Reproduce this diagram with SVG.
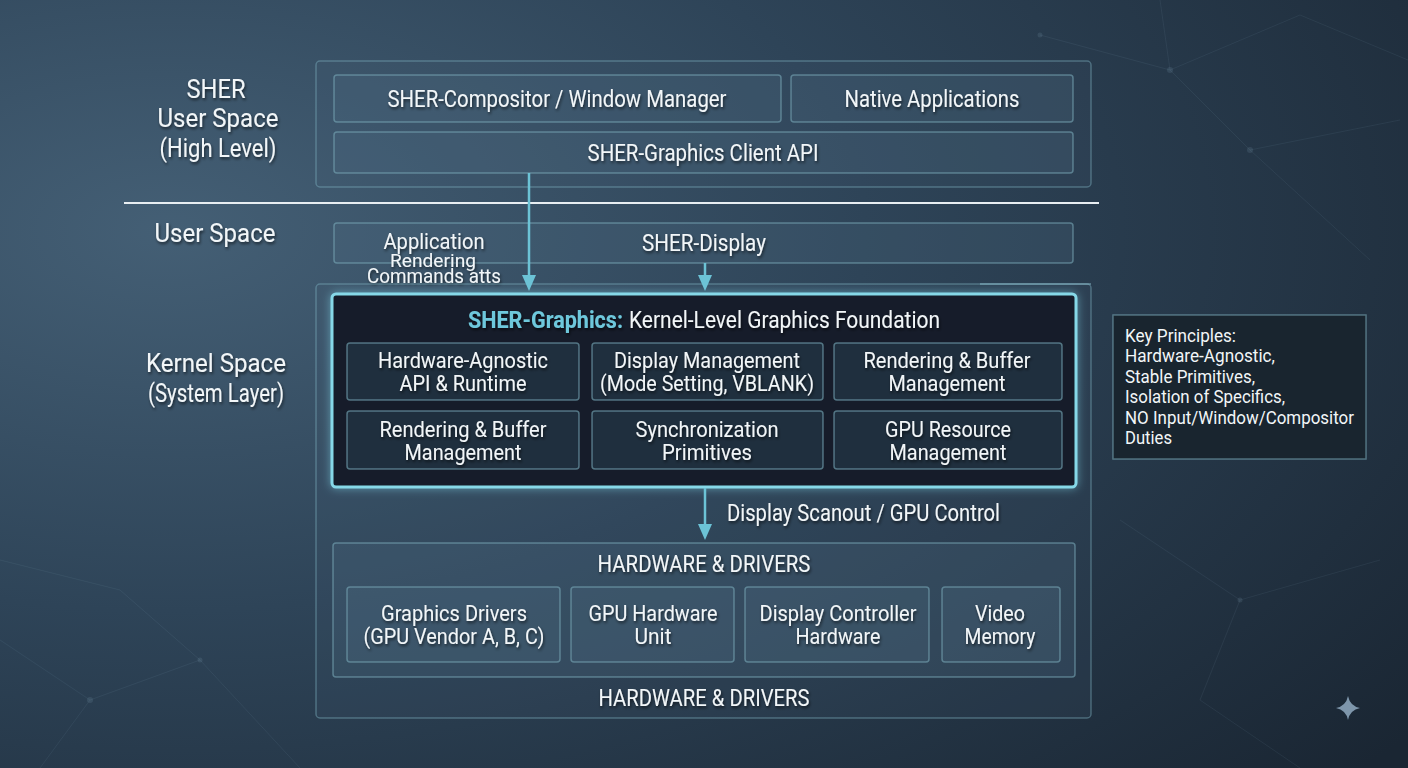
<svg xmlns="http://www.w3.org/2000/svg" width="1408" height="768" viewBox="0 0 1408 768">
<defs>
  <radialGradient id="bg" cx="0.12" cy="0.3" r="1.1">
    <stop offset="0" stop-color="#445f75"/>
    <stop offset="0.45" stop-color="#2e4458"/>
    <stop offset="1" stop-color="#1a2633"/>
  </radialGradient>
  <filter id="glow" x="-10%" y="-20%" width="120%" height="140%">
    <feGaussianBlur in="SourceAlpha" stdDeviation="5" result="b"/>
    <feFlood flood-color="#7fd6e8" flood-opacity="0.55"/>
    <feComposite in2="b" operator="in" result="g"/>
    <feMerge><feMergeNode in="g"/><feMergeNode in="SourceGraphic"/></feMerge>
  </filter>
  <filter id="ts" x="-10%" y="-30%" width="120%" height="160%">
    <feDropShadow dx="1" dy="2" stdDeviation="1.5" flood-color="#000" flood-opacity="0.6"/>
  </filter>
  <marker id="ah" viewBox="0 0 16 14" refX="6" refY="7" markerWidth="16" markerHeight="14" markerUnits="userSpaceOnUse" orient="auto">
    <path d="M0,0 L16,7 L0,14 Z" fill="#6cc3d6"/>
  </marker>
  <style>
    text { font-family: Roboto, "Liberation Sans", sans-serif; fill: #f2f6f8; }
    .t { font-size: 23px; text-anchor: middle; filter: url(#ts); }
    .t2 { font-size: 22px; text-anchor: middle; filter: url(#ts); }
    .lab { font-size: 25px; text-anchor: middle; filter: url(#ts); }
    .key { font-size: 18px; }
    .box { fill: rgba(80,115,135,0.22); stroke: rgba(125,175,190,0.55); stroke-width: 1.5; }
    .outer { fill: rgba(70,100,120,0.12); stroke: rgba(125,175,190,0.45); stroke-width: 1.5; }
    .kbox { fill: #1f2f3e; stroke: rgba(120,170,185,0.6); stroke-width: 1.5; }
    .conn { stroke: #6cc3d6; stroke-width: 2.5; fill: none; }
    .net { stroke: #8fb0c4; stroke-opacity: 0.09; stroke-width: 1; fill: none; }
  </style>
</defs>

<rect width="1408" height="768" fill="url(#bg)"/>

<g id="background-network">
  <path class="net" d="M1040,35 L1170,70 L1300,15 M1170,70 L1250,150 L1400,120 M1250,150 L1370,260 M1300,15 L1408,60 M1160,0 L1170,70"/>
  <path class="net" d="M0,640 L90,700 L200,660 L300,768 M90,700 L40,768 M200,660 L120,590 L0,560"/>
  <path class="net" d="M1120,520 L1240,600 L1380,560 M1240,600 L1200,700 L1300,768"/>
  <g fill="#8fb0c4" fill-opacity="0.15">
    <circle cx="1170" cy="70" r="3"/><circle cx="1250" cy="150" r="3"/><circle cx="1040" cy="35" r="2.5"/>
    <circle cx="90" cy="700" r="3"/><circle cx="200" cy="660" r="2.5"/><circle cx="1240" cy="600" r="2.5"/>
  </g>
</g>

<g id="layer-labels">
  <text class="lab" x="216" y="98" textLength="59" lengthAdjust="spacingAndGlyphs">SHER</text>
  <text class="lab" x="218" y="127" textLength="121" lengthAdjust="spacingAndGlyphs">User Space</text>
  <text class="lab" x="218" y="157" textLength="117" lengthAdjust="spacingAndGlyphs">(High Level)</text>
  <text class="lab" x="215" y="242" textLength="121" lengthAdjust="spacingAndGlyphs">User Space</text>
  <text class="lab" x="216" y="372" textLength="140" lengthAdjust="spacingAndGlyphs">Kernel Space</text>
  <text class="lab" x="216" y="402" textLength="136" lengthAdjust="spacingAndGlyphs">(System Layer)</text>
</g>

<line id="divider" x1="124" y1="203" x2="1099" y2="203" stroke="#e8eef2" stroke-width="2"/>

<g id="user-space-high">
  <rect class="outer" x="316" y="61" width="775" height="126" rx="4"/>
</g>
<g id="compositor">
  <rect class="box" x="334" y="75" width="447" height="47" rx="3"/>
  <text class="t" x="557" y="107" textLength="339" lengthAdjust="spacingAndGlyphs">SHER-Compositor / Window Manager</text>
</g>
<g id="native-apps">
  <rect class="box" x="791" y="75" width="282" height="47" rx="3"/>
  <text class="t" x="932" y="107" textLength="175" lengthAdjust="spacingAndGlyphs">Native Applications</text>
</g>
<g id="client-api">
  <rect class="box" x="334" y="132" width="739" height="41" rx="3"/>
  <text class="t" x="703" y="161" textLength="231" lengthAdjust="spacingAndGlyphs">SHER-Graphics Client API</text>
</g>

<g id="sher-display">
  <rect class="box" x="334" y="223" width="739" height="40" rx="3"/>
  <text class="t" x="704" y="251" textLength="124" lengthAdjust="spacingAndGlyphs">SHER-Display</text>
</g>

<g id="app-commands-label">
  <text class="t" x="434" y="249" style="font-size:22px" textLength="101" lengthAdjust="spacingAndGlyphs">Application</text>
  <text class="t" x="433" y="267" style="font-size:19px" textLength="86" lengthAdjust="spacingAndGlyphs">Rendering</text>
  <text class="t" x="434" y="283" style="font-size:21px" textLength="134" lengthAdjust="spacingAndGlyphs">Commands atts</text>
</g>

<g id="kernel-space">
  <rect class="outer" x="316" y="284" width="775" height="434" rx="4"/>
  <line x1="980" y1="284" x2="1091" y2="284" stroke="rgba(140,190,205,0.6)" stroke-width="1.5"/>
</g>

<g id="sher-graphics">
  <rect x="332" y="294" width="744" height="193" rx="4" fill="#141f2a" stroke="#86d8e8" stroke-width="3" filter="url(#glow)"/>
  <text x="704" y="328" style="font-size:23px" text-anchor="middle" filter="url(#ts)"><tspan fill="#6ec8dc" font-weight="bold" textLength="155" lengthAdjust="spacingAndGlyphs">SHER-Graphics:</tspan><tspan dx="6" textLength="311" lengthAdjust="spacingAndGlyphs">Kernel-Level Graphics Foundation</tspan></text>
</g>
<g id="k-hw-agnostic">
  <rect class="kbox" x="347" y="343" width="232" height="57" rx="3"/>
  <text class="t2" x="463" y="368" textLength="170" lengthAdjust="spacingAndGlyphs">Hardware-Agnostic</text>
  <text class="t2" x="463" y="391" textLength="127" lengthAdjust="spacingAndGlyphs">API &amp; Runtime</text>
</g>
<g id="k-display-mgmt">
  <rect class="kbox" x="592" y="343" width="231" height="57" rx="3"/>
  <text class="t2" x="707" y="368" textLength="186" lengthAdjust="spacingAndGlyphs">Display Management</text>
  <text class="t2" x="707" y="391" textLength="214" lengthAdjust="spacingAndGlyphs">(Mode Setting, VBLANK)</text>
</g>
<g id="k-render-buffer-1">
  <rect class="kbox" x="834" y="343" width="228" height="57" rx="3"/>
  <text class="t2" x="947" y="368" textLength="167" lengthAdjust="spacingAndGlyphs">Rendering &amp; Buffer</text>
  <text class="t2" x="947" y="391" textLength="117" lengthAdjust="spacingAndGlyphs">Management</text>
</g>
<g id="k-render-buffer-2">
  <rect class="kbox" x="347" y="411" width="232" height="58" rx="3"/>
  <text class="t2" x="463" y="437" textLength="167" lengthAdjust="spacingAndGlyphs">Rendering &amp; Buffer</text>
  <text class="t2" x="463" y="460" textLength="117" lengthAdjust="spacingAndGlyphs">Management</text>
</g>
<g id="k-sync">
  <rect class="kbox" x="592" y="411" width="231" height="58" rx="3"/>
  <text class="t2" x="707" y="437" textLength="143" lengthAdjust="spacingAndGlyphs">Synchronization</text>
  <text class="t2" x="707" y="460" textLength="90" lengthAdjust="spacingAndGlyphs">Primitives</text>
</g>
<g id="k-gpu-resource">
  <rect class="kbox" x="834" y="411" width="228" height="58" rx="3"/>
  <text class="t2" x="948" y="437" textLength="126" lengthAdjust="spacingAndGlyphs">GPU Resource</text>
  <text class="t2" x="948" y="460" textLength="117" lengthAdjust="spacingAndGlyphs">Management</text>
</g>

<g id="scanout-label">
  <text x="727" y="521" style="font-size:23px" filter="url(#ts)" textLength="273" lengthAdjust="spacingAndGlyphs">Display Scanout / GPU Control</text>
</g>

<g id="hardware-drivers">
  <rect class="box" x="333" y="543" width="742" height="134" rx="3"/>
  <text class="t" x="704" y="572" textLength="213" lengthAdjust="spacingAndGlyphs">HARDWARE &amp; DRIVERS</text>
</g>
<g id="hw-graphics-drivers">
  <rect class="box" x="347" y="587" width="213" height="75" rx="3"/>
  <text class="t2" x="454" y="621" textLength="146" lengthAdjust="spacingAndGlyphs">Graphics Drivers</text>
  <text class="t2" x="454" y="644" textLength="181" lengthAdjust="spacingAndGlyphs">(GPU Vendor A, B, C)</text>
</g>
<g id="hw-gpu-unit">
  <rect class="box" x="571" y="587" width="163" height="75" rx="3"/>
  <text class="t2" x="653" y="621" textLength="129" lengthAdjust="spacingAndGlyphs">GPU Hardware</text>
  <text class="t2" x="653" y="644" textLength="37" lengthAdjust="spacingAndGlyphs">Unit</text>
</g>
<g id="hw-display-controller">
  <rect class="box" x="745" y="587" width="184" height="75" rx="3"/>
  <text class="t2" x="838" y="621" textLength="157" lengthAdjust="spacingAndGlyphs">Display Controller</text>
  <text class="t2" x="838" y="644" textLength="85" lengthAdjust="spacingAndGlyphs">Hardware</text>
</g>
<g id="hw-video-memory">
  <rect class="box" x="942" y="587" width="118" height="75" rx="3"/>
  <text class="t2" x="1000" y="621" textLength="50" lengthAdjust="spacingAndGlyphs">Video</text>
  <text class="t2" x="1000" y="644" textLength="71" lengthAdjust="spacingAndGlyphs">Memory</text>
</g>
<g id="hw-footer">
  <text class="t" x="704" y="706" textLength="211" lengthAdjust="spacingAndGlyphs">HARDWARE &amp; DRIVERS</text>
</g>

<g id="key-principles">
  <rect x="1113" y="315" width="253" height="144" fill="#19252f" stroke="rgba(125,175,190,0.55)" stroke-width="1.5"/>
  <text class="key" x="1125" y="342" textLength="111" lengthAdjust="spacingAndGlyphs">Key Principles:</text>
  <text class="key" x="1125" y="362" textLength="150" lengthAdjust="spacingAndGlyphs">Hardware-Agnostic,</text>
  <text class="key" x="1125" y="383" textLength="130" lengthAdjust="spacingAndGlyphs">Stable Primitives,</text>
  <text class="key" x="1125" y="403" textLength="160" lengthAdjust="spacingAndGlyphs">Isolation of Specifics,</text>
  <text class="key" x="1125" y="424" textLength="229" lengthAdjust="spacingAndGlyphs">NO Input/Window/Compositor</text>
  <text class="key" x="1125" y="444" textLength="47" lengthAdjust="spacingAndGlyphs">Duties</text>
</g>

<g id="connectors">
  <line class="conn" x1="529" y1="173" x2="529" y2="281" marker-end="url(#ah)"/>
  <line class="conn" x1="705" y1="263" x2="705" y2="281" marker-end="url(#ah)"/>
  <line class="conn" x1="705" y1="488" x2="705" y2="530" marker-end="url(#ah)"/>
</g>

<path id="sparkle" d="M1348,696 Q1350,706 1360,708 Q1350,710 1348,720 Q1346,710 1336,708 Q1346,706 1348,696 Z" fill="#8fa9bf" fill-opacity="0.85"/>
</svg>
